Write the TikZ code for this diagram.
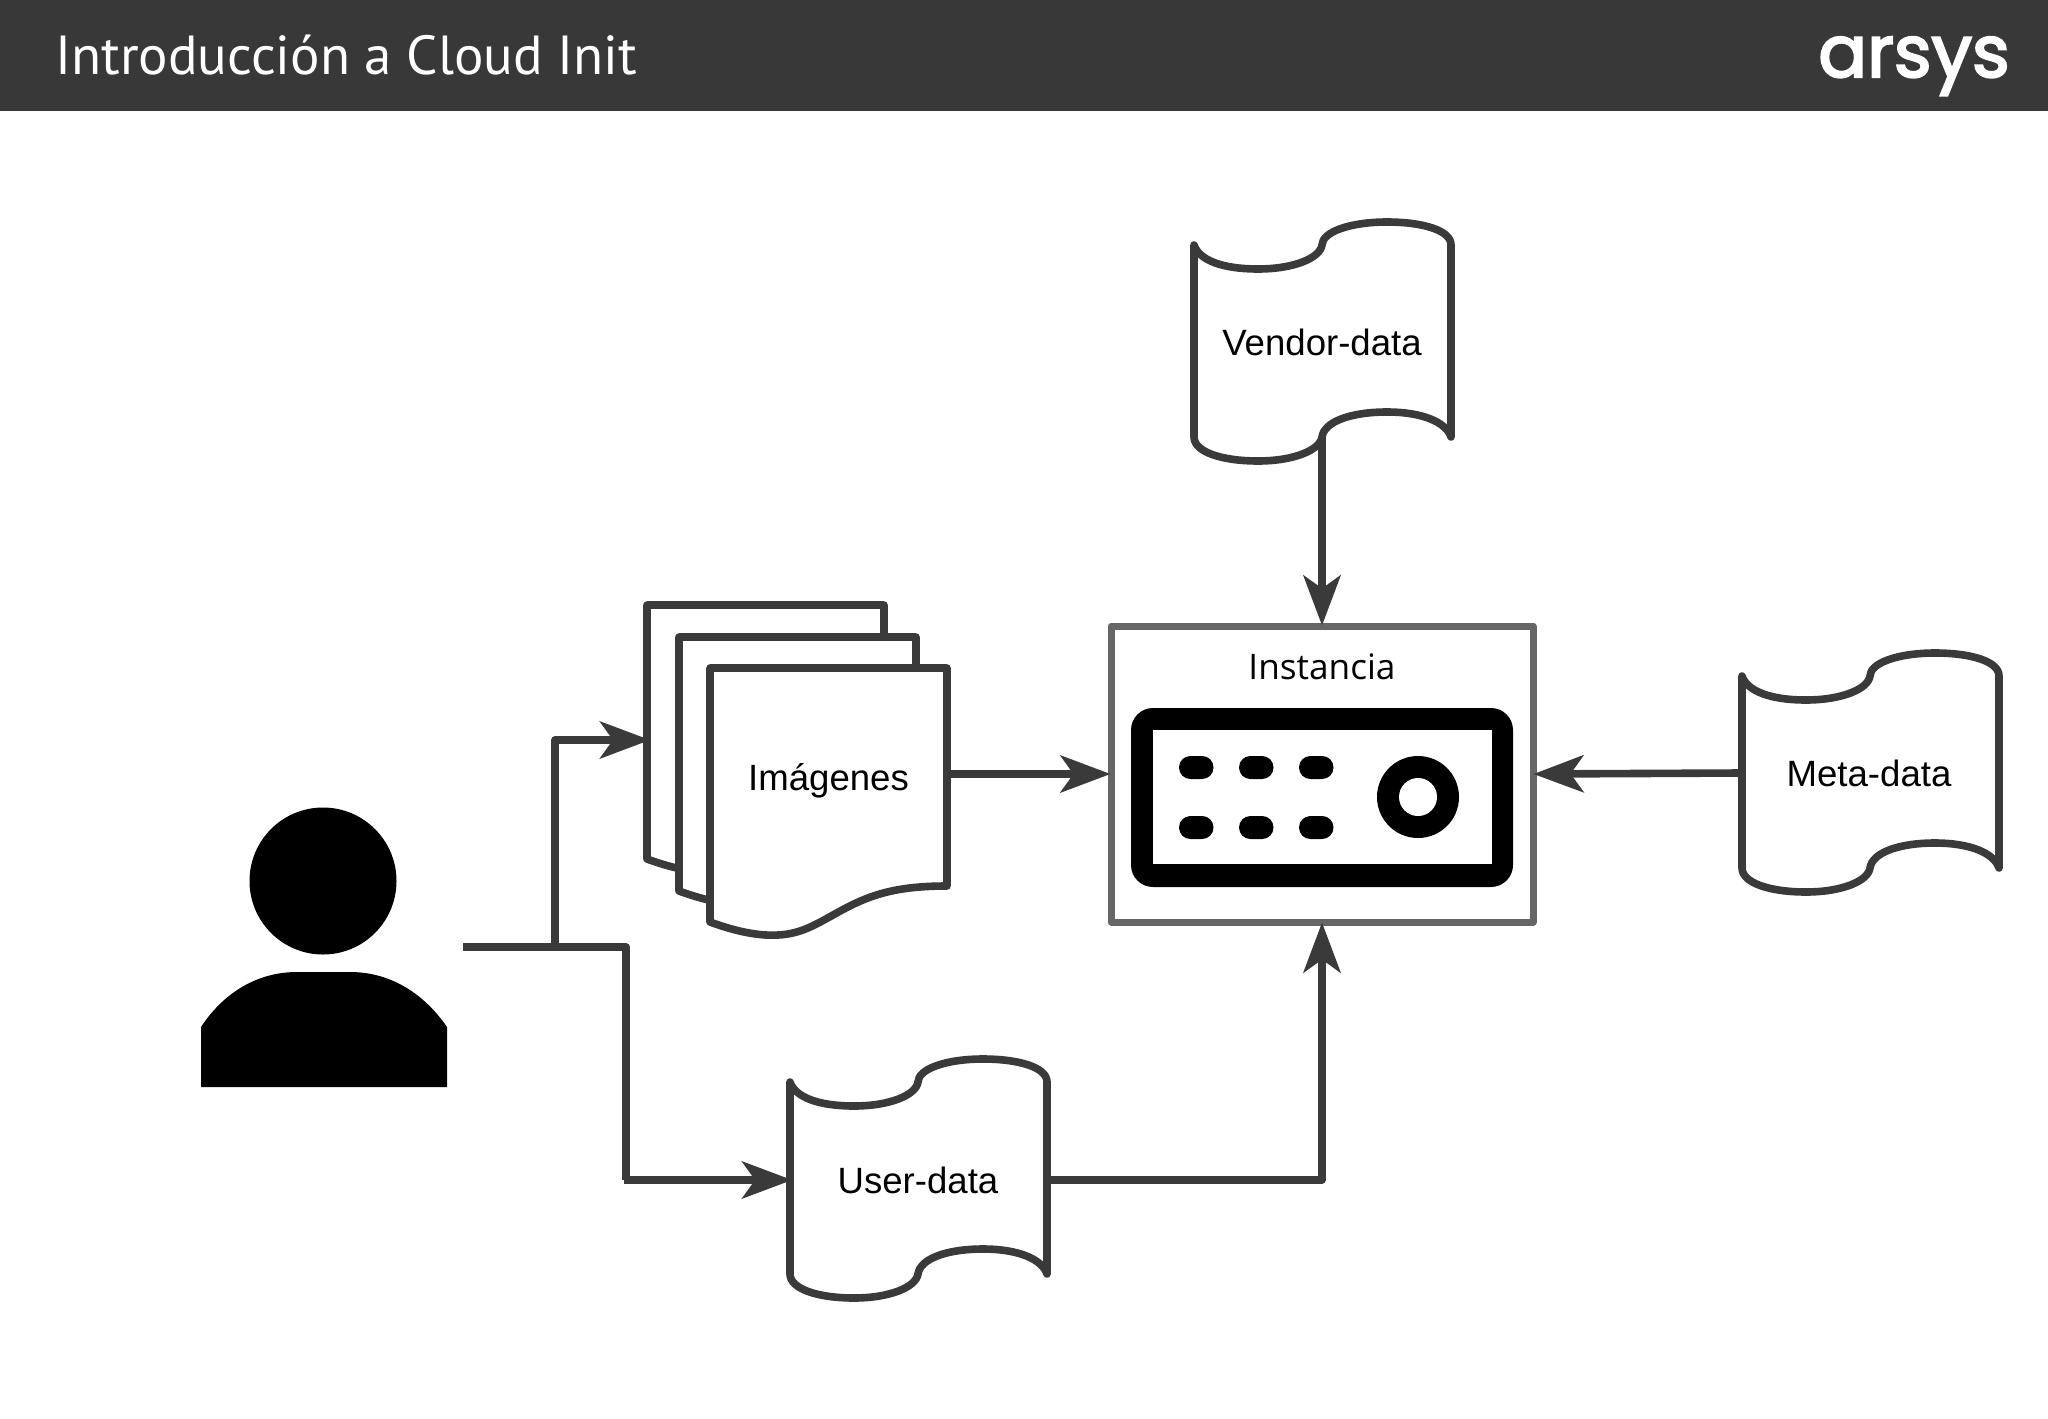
\documentclass[tikz,border=0pt]{standalone}
\usepackage{fontspec}
\setmainfont{Liberation Sans}
\newfontfamily\titlefont{PT Sans}
\newfontfamily\instfont{Open Sans}
\newfontfamily\logofont{Poppins}[FakeBold=3]
\usetikzlibrary{arrows.meta,calc}
\definecolor{ink}{HTML}{3A3A3A}
\definecolor{bar}{HTML}{383838}
\definecolor{frame}{HTML}{666666}
\tikzset{
  every picture/.style={x=0.5pt,y=-0.5pt},
  outline/.style={draw=ink,line width=3.8pt,line join=round,line cap=round,fill=white},
  flowline/.style={draw=ink,line width=3.8pt,line join=round},
  flowarrow/.style={flowline,shorten >=-1.5pt,-{Stealth[length=25pt,width=18.5pt,inset=6.5pt]}},
  tapebox/.style={minimum width=128.5pt,minimum height=95pt,inner sep=0pt,font=\fontsize{18.3}{21}\selectfont},
  glyph/.style={fill=black,draw=none},
  pill/.style={fill=black,draw=none,rounded corners=5.7pt}
}
\newcommand{\tapeshape}[2]{%
  \draw[outline] (#1-128,#2-97)
    .. controls (#1-123,#2-82) and (#1-100,#2-73) .. (#1-64,#2-73)
    .. controls (#1-28,#2-73) and (#1-2,#2-84) .. (#1,#2-97)
    .. controls (#1,#2-110) and (#1+28,#2-120) .. (#1+65,#2-120)
    .. controls (#1+100,#2-120) and (#1+129,#2-112) .. (#1+129,#2-97)
    -- (#1+129,#2+95)
    .. controls (#1+124,#2+80) and (#1+100,#2+70) .. (#1+65,#2+70)
    .. controls (#1+28,#2+70) and (#1+2,#2+80) .. (#1,#2+95)
    .. controls (#1-2,#2+108) and (#1-28,#2+119) .. (#1-64,#2+119)
    .. controls (#1-100,#2+119) and (#1-128,#2+110) .. (#1-128,#2+95)
    -- cycle;%
}
\newcommand{\docshape}[2]{%
  \draw[outline] (#1,#2) -- (#1+237,#2) -- (#1+237,#2+218)
    .. controls (#1+180,#2+218) and (#1+155,#2+229) .. (#1+123,#2+247)
    .. controls (#1+105,#2+257) and (#1+90,#2+266) .. (#1+68,#2+267)
    .. controls (#1+52,#2+268) and (#1+30,#2+265) .. (#1,#2+254)
    -- cycle;%
}
\begin{document}
\begin{tikzpicture}
\useasboundingbox (0,0) rectangle (2048,1418);
\fill[white] (0,0) rectangle (2048,1418);
\fill[bar] (0,0) rectangle (2048,111);
\node[anchor=west,text=white,inner sep=0pt,font=\titlefont\fontsize{27.5}{30}\selectfont] (title) at (55,55) {Introducción a Cloud Init};
\node[anchor=base,text=white,inner sep=0pt,font=\logofont\fontsize{36}{38}\selectfont] (logo) at (1914,77) {arsys};
% person
\fill[glyph] (323,881) circle (73.5);
\fill[glyph] (201,1027) .. controls (222,995) and (255,972) .. (297,972) -- (350,972)
  .. controls (392,972) and (425,995) .. (447,1027) -- (447,1087) -- (201,1087) -- cycle;
\coordinate (person) at (463,947);
\coordinate (fork) at (555,947);
% documents
\docshape{647}{605}
\docshape{679}{637}
\docshape{710}{668}
\coordinate (stack) at (647,740);
\node[inner sep=0pt,minimum width=118.5pt,minimum height=105pt] (images) at (828.5,774) {};
\node[inner sep=0pt,font=\fontsize{18.3}{21}\selectfont] (imageslabel) at (828.5,781) {Imágenes};
% tapes
\tapeshape{1322}{342}
\node[tapebox] (vendor) at (1322,342) {Vendor-data};
\tapeshape{1870}{773}
\node[tapebox] (meta) at (1869,773) {Meta-data};
\tapeshape{918}{1179}
\node[tapebox] (user) at (918,1180) {User-data};
% instance
\node[draw=frame,line width=3.5pt,line join=round,fill=white,minimum width=211pt,minimum height=148pt,inner sep=0pt] (inst) at (1322,774) {};
\node[inner sep=0pt,font=\instfont\fontsize{17.6}{21}\selectfont] (instlabel) at (1322,667) {Instancia};
\fill[glyph,rounded corners=11pt] (1131,708) rectangle (1513,887);
\fill[white] (1153,730) rectangle (1492,864);
\foreach \px in {1179,1239,1299}{
  \foreach \py in {756,816}{
    \fill[pill] (\px,\py) rectangle (\px+34.5,\py+23);
  }
}
\fill[glyph] (1418,797) circle (41);
\fill[white] (1418,797) circle (19);
% connectors
\draw[flowline] (person) -- (626,947) -- (626,1180);
\draw[flowarrow] (624,1180) -- (user.west);
\draw[flowarrow] (fork) |- (stack);
\draw[flowarrow] (images.east) -- (inst.west);
\draw[flowarrow] (vendor.south) -- (inst.north);
\draw[flowarrow] (meta.west) -- (inst.east);
\draw[flowarrow] (user.east) -| (inst.south);
\end{tikzpicture}
\end{document}
